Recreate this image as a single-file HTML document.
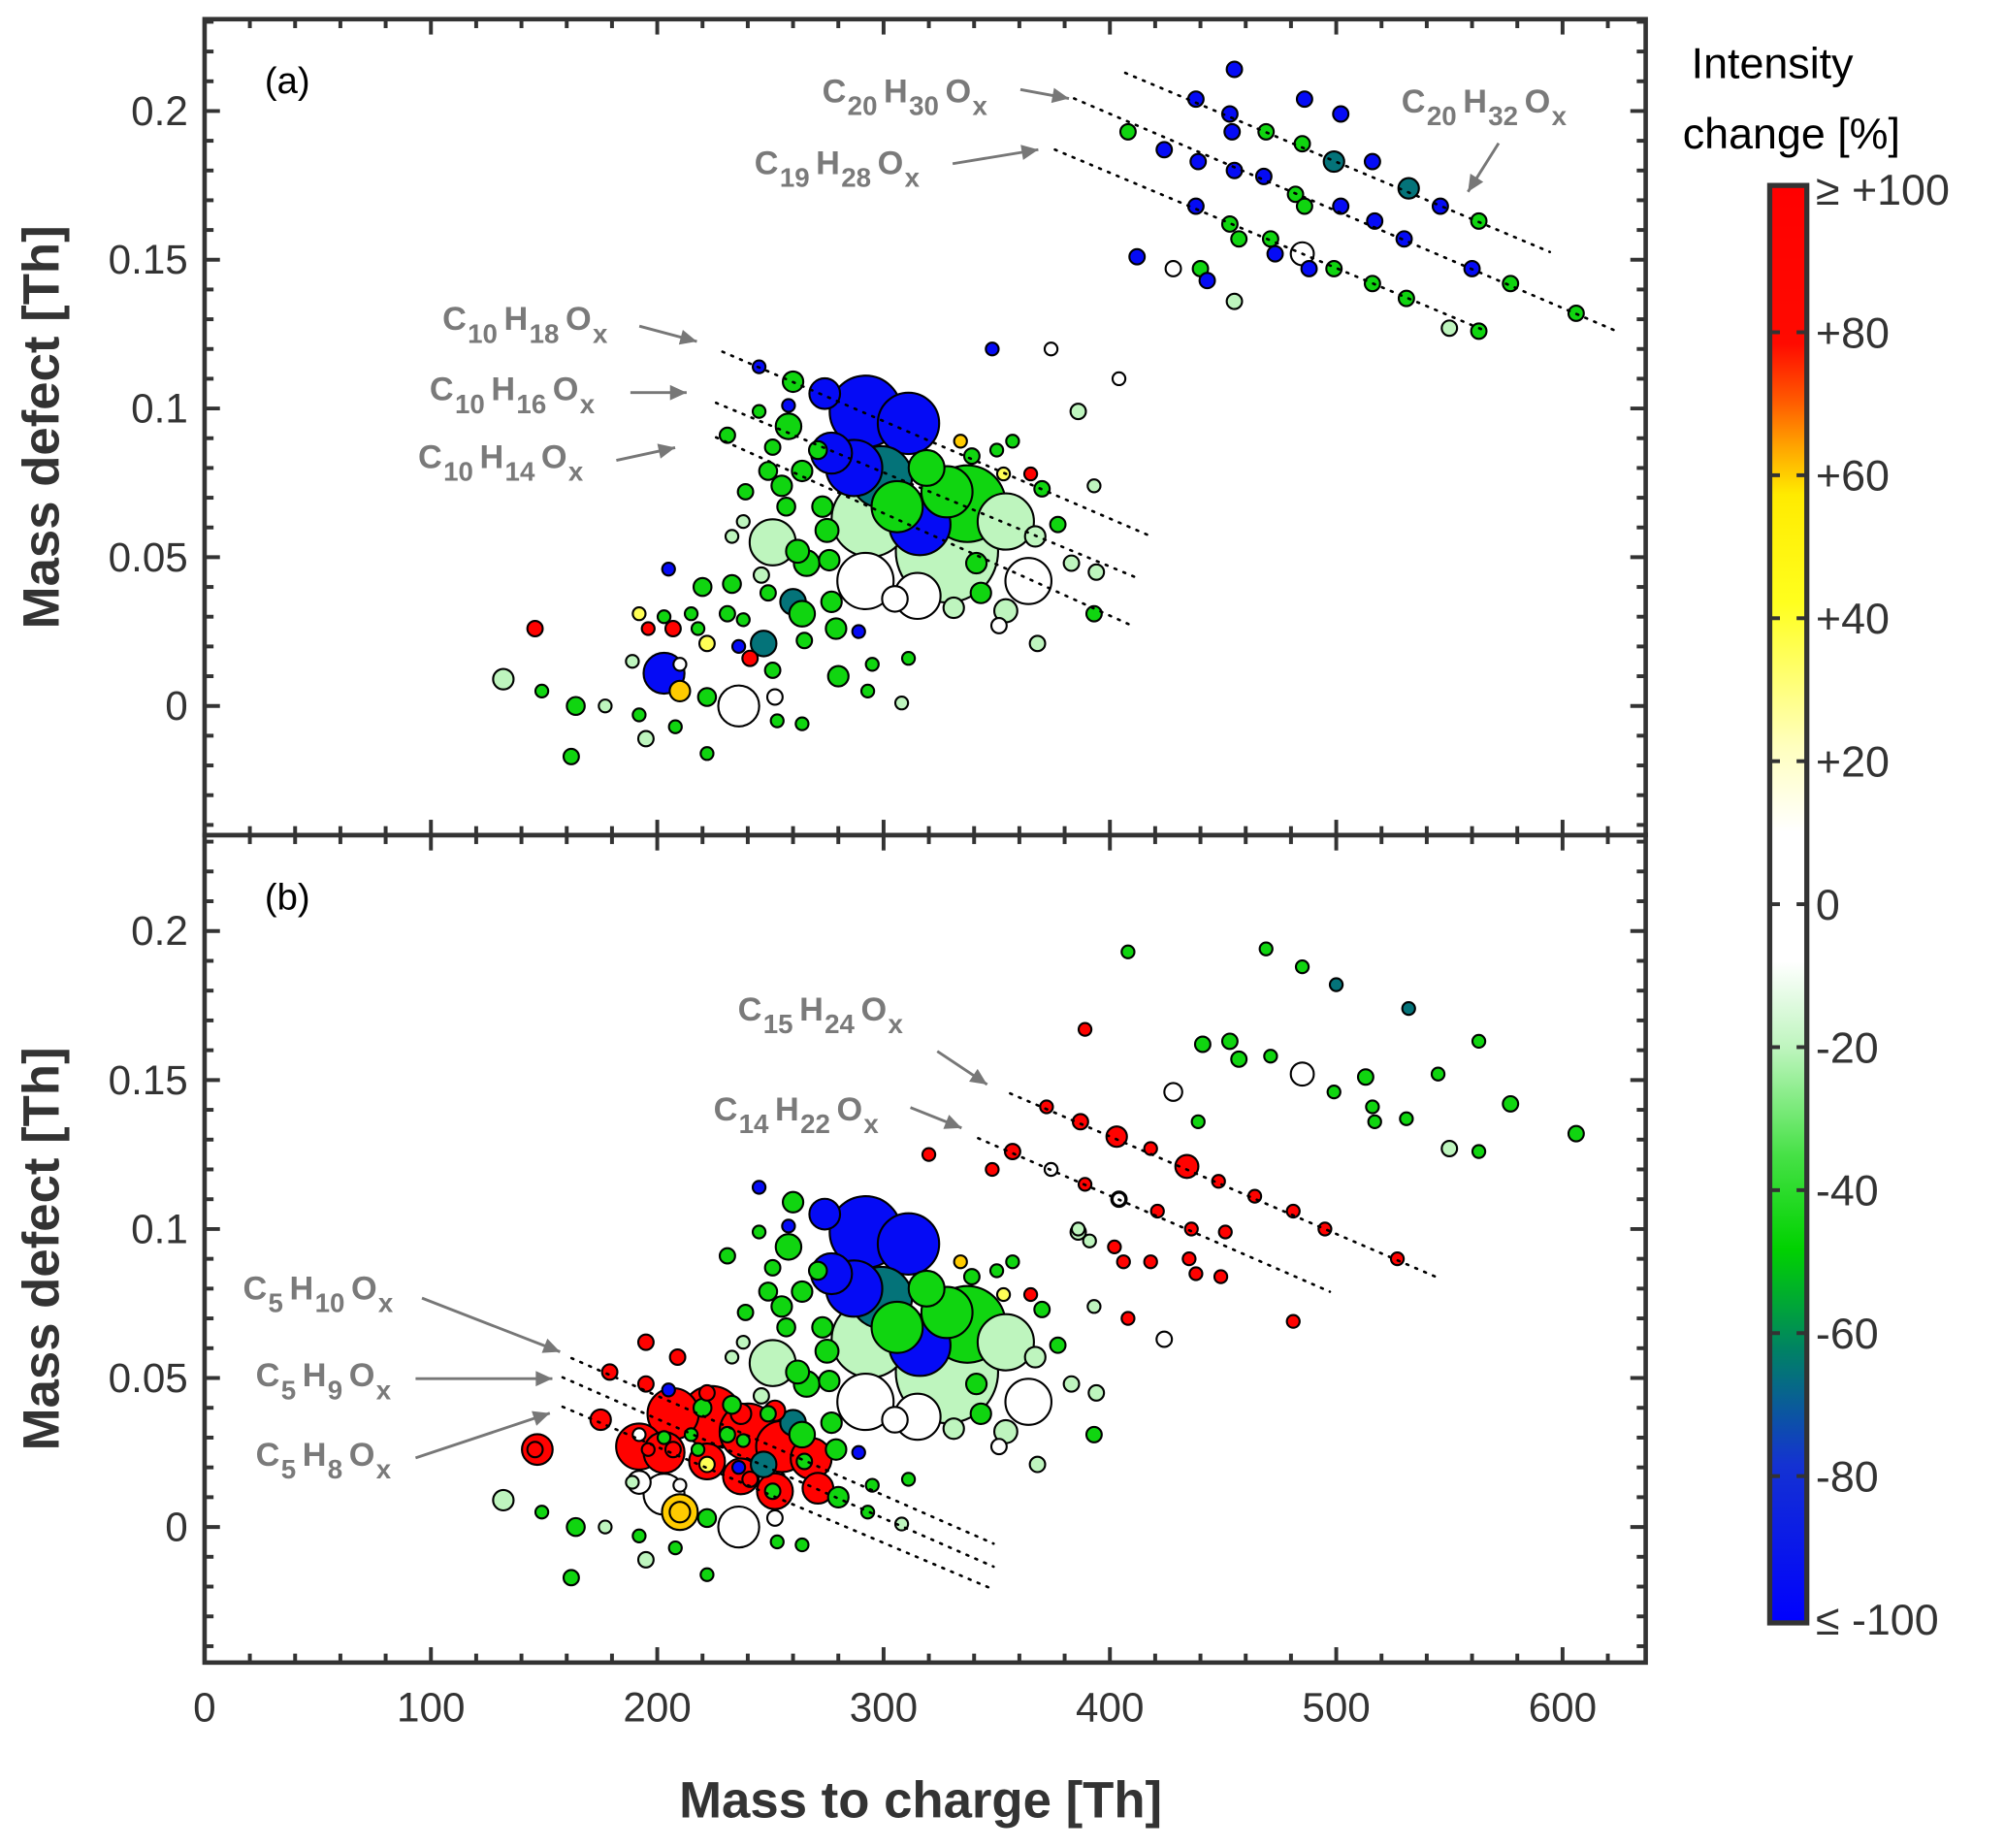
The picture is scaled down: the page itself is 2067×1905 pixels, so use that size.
<!DOCTYPE html>
<html><head><meta charset="utf-8"><style>
html,body{margin:0;padding:0;background:#fff;}
svg{display:block;font-family:"Liberation Sans",Arial,sans-serif;}
</style></head><body>
<svg id="chart" width="2067" height="1905" viewBox="0 0 1568 1445" preserveAspectRatio="none" xmlns="http://www.w3.org/2000/svg">
<g id="layer"></g>
</svg>
<script>
// ---------- DATA ----------
const topAMz=[455,438,453,486,502,408,424,439,454,469,485,499,516,532,438,455,468,482,486,502,517,546,563,453,457,471,530,412,428,440,443,473,485,488,499,516,531,560,577,606,455,550,563];
const topAMd=[214,204,199,204,199,193,187,183,193,193,189,183,183,174,168,180,178,172,168,168,163,168,163,162,157,157,157,151,147,147,143,152,152,147,147,142,137,147,142,132,136,127,126];
const topASz=[6,6,6,6,6,6,6,6,6,6,6,8,6,8,6,6,6,6,6,6,6,6,6,6,6,6,6,6,6,6,6,6,9,6,6,6,6,6,6,6,6,6,6];
const topAChg=[-95,-95,-95,-95,-95,-45,-95,-95,-95,-45,-45,-65,-95,-65,-95,-95,-95,-45,-45,-95,-95,-95,-45,-45,-45,-45,-95,-95,0,-45,-95,-95,0,-95,-45,-45,-45,-95,-45,-45,-20,-20,-45];

const midMz=[348,374,404,386,393,245,260,258,274,292,311,258,245,231,251,271,277,287,299,319,334,339,350,357,353,365,370,328,337,354,306,316,328,294,273,255,239,264,249,257,275,262,251,266,238,233,276,292,305,315,341,343,354,364,367,377,383,394,393,368,351,331,260,249,264,279,289,277,233,220,205,246,231,238,218,203,192,196,207,215,222,236,247,241,265,251,280,295,311,189,203,210,210,222,236,252,253,264,146,132,149,164,177,192,195,208,222,162,308,293];
const midMd=[120,120,110,99,74,114,109,101,105,99,95,94,99,91,87,86,85,80,77,80,89,84,86,89,78,78,73,72,68,62,67,61,52,63,67,74,72,79,79,67,59,52,55,48,62,57,49,42,36,37,48,38,32,42,57,61,48,45,31,21,27,33,35,38,31,26,25,35,41,40,46,44,31,29,26,30,31,26,26,31,21,20,21,16,22,12,10,14,16,15,11,5,14,3,0,3,-5,-6,26,9,5,0,0,-3,-11,-7,-16,-17,1,5];
const midSz=[5,5,5,6,5,5,8,5,12,28,24,10,5,6,6,7,16,22,24,14,5,6,5,5,5,5,6,20,30,22,20,24,40,30,8,8,6,8,7,7,9,9,18,10,5,5,8,22,10,18,8,8,9,18,8,6,6,6,6,6,6,8,10,6,10,8,5,8,7,7,5,6,6,5,5,5,5,5,6,5,6,5,10,6,6,6,8,5,5,5,16,8,5,7,16,6,5,5,6,8,5,7,5,5,6,5,5,6,5,5];
const midChgA=[-95,0,0,-20,-20,-95,-45,-95,-95,-95,-95,-45,-45,-45,-45,-45,-95,-95,-65,-45,60,-45,-45,-45,35,95,-45,-45,-45,-20,-45,-95,-20,-20,-45,-45,-45,-45,-45,-45,-45,-45,-20,-45,-20,-20,-45,0,0,0,-45,-45,-20,0,-20,-45,-20,-20,-45,-20,0,-20,-65,-45,-45,-45,-95,-45,-45,-45,-95,-20,-45,-45,-45,-45,35,95,95,-45,35,-95,-65,95,-45,-45,-45,-45,-45,-20,-95,60,0,-45,0,0,-45,-45,95,-20,-45,-45,-20,-45,-20,-45,-45,-45,-20,-45];
const midChgB=[95,0,0,-20,-20,-95,-45,-95,-95,-95,-95,-45,-45,-45,-45,-45,-95,-95,-65,-45,60,-45,-45,-45,35,95,-45,-45,-45,-20,-45,-95,-20,-20,-45,-45,-45,-45,-45,-45,-45,-45,-20,-45,-20,-20,-45,0,0,0,-45,-45,-20,0,-20,-45,-20,-20,-45,-20,0,-20,-65,-45,-45,-45,-95,-45,-45,-45,-95,-20,-45,-45,-45,-45,0,95,95,-45,35,-95,-65,95,-45,-45,-45,-45,-45,-20,0,60,0,-45,0,0,-45,-45,95,-20,-45,-45,-20,-45,-20,-45,-45,-45,-20,-45];

const topBMz=[408,469,485,500,532,441,453,457,471,485,499,513,516,517,531,545,563,577,606,550,563,439,428,389,372,387,403,418,434,448,464,481,495,527,320,357,374,389,404,421,436,451,435,438,449,481,386,391,402,406,418,408,424];
const topBMd=[193,194,188,182,174,162,163,157,158,152,146,151,141,136,137,152,163,142,132,127,126,136,146,167,141,136,131,127,121,116,111,106,100,90,125,126,120,115,110,106,100,99,90,85,84,69,100,96,94,89,89,70,63];
const topBSz=[5,5,5,5,5,6,6,6,5,9,5,6,5,5,5,5,5,6,6,6,5,5,7,5,5,6,8,5,9,5,5,5,5,5,5,6,5,5,6,5,5,5,5,5,5,5,5,5,5,5,5,5,6];
const topBChg=[-45,-45,-45,-65,-65,-45,-45,-45,-45,0,-45,-45,-45,-45,-45,-45,-45,-45,-45,-20,-45,-45,0,95,95,95,95,95,95,95,95,95,95,95,95,95,0,95,0,95,95,95,95,95,95,95,-20,-20,95,95,95,95,0];

const lowBMz=[207,224,240,255,192,203,222,237,252,268,271,175,179,195,209,222,147,237,252,195,210,192];
const lowBMd=[38,37,32,27,27,25,22,17,12,23,13,36,52,62,57,45,26,38,39,48,5,15];
const lowBSz=[20,24,22,20,18,16,14,14,14,16,12,8,6,6,6,6,12,8,8,6,14,9];
const lowBChg=[95,95,95,95,95,95,95,95,95,95,95,95,95,95,95,95,95,95,95,95,60,0];

const xTickVals=[0,100,200,300,400,500,600];
const yTickVals=[0,0.05,0.1,0.15,0.2];
const yTickLabels=["0","0.05","0.1","0.15","0.2"];
const cbVals=[100,80,60,40,20,0,-20,-40,-60,-80,-100];
const cbLabels=["≥ +100","+80","+60","+40","+20","0","-20","-40","-60","-80","≤ -100"];

// ---------- AXES ----------
const L=160,R=1287;
const panels={a:{top:15,bot:653,y0:552,k:2326},b:{top:653,bot:1300,y0:1194,k:2330}};
function xS(v){return L+v*1.77;}
function yS(p,v){return panels[p].y0-v*panels[p].k;}
const cbTop=148,cbBot=1266;
function cbY(v){return cbTop+(100-v)/200*(cbBot-cbTop);}

const stops=[[100,[255,0,0]],[78,[255,10,0]],[70,[255,90,0]],[64,[255,160,0]],[57,[255,235,0]],[42,[255,255,30]],[22,[255,255,190]],[10,[255,255,255]],[-8,[255,255,255]],[-20,[190,245,190]],[-35,[70,225,70]],[-48,[0,210,0]],[-62,[0,130,100]],[-78,[20,50,210]],[-100,[0,0,255]]];
function col(v){v=Math.max(-100,Math.min(100,v));
 for(let i=0;i<stops.length-1;i++){const a=stops[i],b=stops[i+1];
  if(v<=a[0]&&v>=b[0]){const t=(a[0]-v)/(a[0]-b[0]);const c=a[1].map((x,j)=>Math.round(x+(b[1][j]-x)*t));return `rgb(${c[0]},${c[1]},${c[2]})`;}}
 return 'rgb(0,0,255)';}

const NS="http://www.w3.org/2000/svg";
const layer=document.getElementById('layer');
function mk(tag,attrs,parent){const e=document.createElementNS(NS,tag);for(const k in attrs)e.setAttribute(k,attrs[k]);(parent||layer).appendChild(e);return e;}

const defs=mk('defs',{});
const lg=mk('linearGradient',{id:'cbg',x1:'0',y1:'0',x2:'0',y2:'1'},defs);
stops.forEach(s=>{mk('stop',{offset:((100-s[0])/200).toFixed(3),'stop-color':col(s[0])},lg);});

function drawPanel(p,sets){
 const P=panels[p];
 const g=mk('g',{});
 
 
 mk('rect',{x:L,y:P.top,width:R-L,height:P.bot-P.top,fill:'#fff'},g);
 let pts=[];
 sets.forEach(s=>{const n=Math.min(s.mz.length,s.md.length,s.sz.length,s.chg.length);
  for(let i=0;i<n;i++)pts.push({x:s.mz[i],y:s.md[i]/1000,r:s.sz[i],c:s.chg[i]});});
 pts.sort((a,b)=>b.r-a.r);
 const pg=mk('g',{},g);
 
 
 pts.forEach(q=>{const c=mk('circle',{cx:xS(q.x),cy:yS(p,q.y),r:q.r,fill:col(q.c),stroke:'#000','stroke-width':1.6},pg);
  
  });
 return g;
}

drawPanel('a',[{mz:midMz,md:midMd,sz:midSz,chg:midChgA},{mz:topAMz,md:topAMd,sz:topASz,chg:topAChg}]);
drawPanel('b',[{mz:midMz,md:midMd,sz:midSz,chg:midChgB},{mz:topBMz,md:topBMd,sz:topBSz,chg:topBChg},{mz:lowBMz,md:lowBMd,sz:lowBSz,chg:lowBChg}]);

const dots=[[880,57,1212,197],[840,77,1262,258],[825,117,1160,258],[565,275,897,418],[560,315,892,453],[560,342,887,490],
 [790,855,1122,998],[765,890,1040,1010],[447,1062,777,1207],[440,1077,777,1225],[440,1100,775,1242]];
dots.forEach(d=>{const l=mk('line',{x1:d[0],y1:d[1],x2:d[2],y2:d[3],stroke:'#000','stroke-width':2,'stroke-dasharray':'1.5 6','stroke-linecap':'round'});
 
 });

function formula(x,y,c,h,arrow){
 const g=mk('g',{});
 
 
 const t=mk('text',{x:x,y:y,fill:'#7a7a7a','font-size':26,'font-weight':'bold'},g);
 const parts=[['C',0],[c,1],['H',0],[h,1],['O',0],['x',1]];
 let html='';
 parts.forEach(pp=>{html+= pp[1]?`<tspan font-size="21" dy="10" dx="1">${pp[0]}</tspan>`:`<tspan dy="${html?-10:0}" dx="${html?5:0}">${pp[0]}</tspan>`;});
 t.innerHTML=html;
 const [x1,y1,x2,y2]=arrow;
 mk('line',{x1:x1,y1:y1,x2:x2,y2:y2,stroke:'#777','stroke-width':2.2},g);
 const ang=Math.atan2(y2-y1,x2-x1),s=13,w=6;
 const bx=x2-s*Math.cos(ang),by=y2-s*Math.sin(ang);
 mk('polygon',{points:`${x2},${y2} ${bx-w*Math.sin(ang)},${by+w*Math.cos(ang)} ${bx+w*Math.sin(ang)},${by-w*Math.cos(ang)}`,fill:'#777'},g);
}
formula(643,80,'20','30',[798,70,836,77]);
formula(590,136,'19','28',[745,128,812,117]);
formula(1096,88,'20','32',[1172,112,1148,150]);
formula(346,258,'10','18',[500,255,545,267]);
formula(336,313,'10','16',[493,307,537,307]);
formula(327,366,'10','14',[482,360,528,350]);
formula(577,798,'15','24',[733,822,772,848]);
formula(558,876,'14','22',[712,866,752,882]);
formula(190,1016,'5','10',[330,1015,438,1057]);
formula(200,1084,'5','9',[325,1078,432,1078]);
formula(200,1146,'5','8',[325,1140,430,1105]);

['a','b'].forEach(p=>{const P=panels[p];
 const ax=mk('g',{});
 
 
 for(let v=0;v<=630;v+=20){const x=xS(v);const len=(v%100===0)?12:7;
  mk('line',{x1:x,y1:P.top,x2:x,y2:P.top+len,stroke:'#333','stroke-width':3},ax);
  mk('line',{x1:x,y1:P.bot,x2:x,y2:P.bot-len,stroke:'#333','stroke-width':3},ax);}
 for(let i=-4;i<=23;i++){const v=i/100;const y=yS(p,v);if(y<P.top+2||y>P.bot-2)continue;const len=(i%5===0)?12:7;
  mk('line',{x1:L,y1:y,x2:L+len,y2:y,stroke:'#333','stroke-width':3},ax);
  mk('line',{x1:R,y1:y,x2:R-len,y2:y,stroke:'#333','stroke-width':3},ax);}
 yTickVals.forEach((v,i)=>{const t=mk('text',{x:147,y:yS(p,v)+11,'text-anchor':'end','font-size':32,fill:'#333'},ax);t.textContent=yTickLabels[i];
  
  });
 mk('rect',{x:L,y:P.top,width:R-L,height:P.bot-P.top,fill:'none',stroke:'#333','stroke-width':3.5},ax);
 const yt=mk('text',{x:0,y:0,transform:`translate(46,${(P.top+P.bot)/2}) rotate(-90)`,'text-anchor':'middle','font-size':40,'font-weight':'bold',fill:'#333'},ax);
 yt.textContent='Mass defect [Th]';
 
 
 const pl=mk('text',{x:207,y:P.top+58,'font-size':29,fill:'#000'},ax);pl.textContent='('+p+')';
 
 
});
xTickVals.forEach(v=>{const t=mk('text',{x:xS(v),y:1346,'text-anchor':'middle','font-size':32,fill:'#333'});t.textContent=v;
 
 });
const xt=mk('text',{x:720,y:1421,'text-anchor':'middle','font-size':40,'font-weight':'bold',fill:'#333'});
xt.textContent='Mass to charge [Th]';



const cb=mk('g',{});


mk('rect',{x:1384,y:145,width:29,height:1124,fill:'url(#cbg)',stroke:'#333','stroke-width':4},cb);
cbVals.forEach((v,i)=>{const y=cbY(v);
 if(i>0&&i<cbVals.length-1){mk('line',{x1:1384,y1:y,x2:1392,y2:y,stroke:'#333','stroke-width':3},cb);mk('line',{x1:1413,y1:y,x2:1405,y2:y,stroke:'#333','stroke-width':3},cb);}
 const t=mk('text',{x:1420,y:y+12,'font-size':34,fill:'#333'},cb);t.textContent=cbLabels[i];
 
 });
const c1=mk('text',{x:1386,y:61,'text-anchor':'middle','font-size':34,fill:'#000'},cb);c1.textContent='Intensity';


const c2=mk('text',{x:1401,y:116,'text-anchor':'middle','font-size':34,fill:'#000'},cb);c2.textContent='change [%]';


</script>
</body></html>
